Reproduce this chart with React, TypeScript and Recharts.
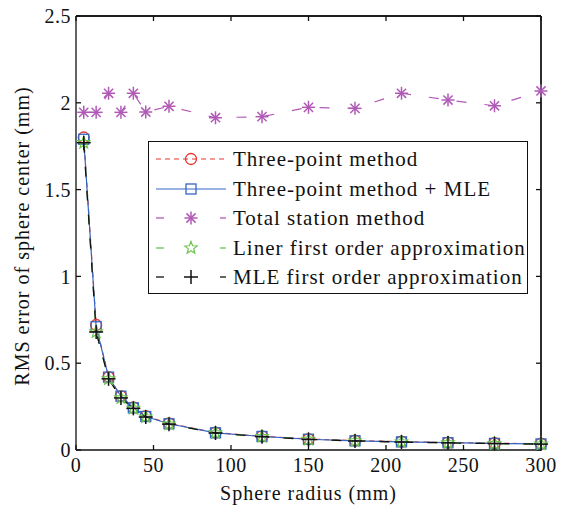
import { LineChart, Line, XAxis, YAxis, ReferenceLine } from 'recharts';

// sphere radius (mm)
const radius = [5, 13, 21, 29, 37, 45, 60, 90, 120, 150, 180, 210, 240, 270, 300];

// RMS error of sphere center (mm) per method
const threePoint = [1.8, 0.72, 0.42, 0.31, 0.245, 0.195, 0.153, 0.1, 0.079, 0.063, 0.054, 0.048, 0.043, 0.039, 0.036];
const threePointMle = [1.79, 0.71, 0.42, 0.31, 0.243, 0.193, 0.151, 0.099, 0.078, 0.062, 0.053, 0.047, 0.042, 0.038, 0.035];
const totalStation = [1.945, 1.945, 2.055, 1.945, 2.055, 1.947, 1.98, 1.914, 1.92, 1.974, 1.968, 2.055, 2.016, 1.983, 2.068];
const linerApprox = [1.77, 0.68, 0.41, 0.3, 0.24, 0.19, 0.149, 0.098, 0.077, 0.061, 0.052, 0.046, 0.041, 0.037, 0.034];
const mleApprox = [1.77, 0.68, 0.41, 0.3, 0.24, 0.19, 0.149, 0.098, 0.077, 0.061, 0.052, 0.046, 0.041, 0.037, 0.034];

const xTicks = [0, 50, 100, 150, 200, 250, 300];
const yTicks = [0, 0.5, 1, 1.5, 2, 2.5];

const RED = '#e8352e';
const BLUE = '#3366c4';
const PURPLE = '#b05ab6';
const GREEN = '#6cc54a';
const BLACK = '#111';

const FONT = 'Liberation Serif';

const data = radius.map((r, i) => ({
  r,
  threePoint: threePoint[i],
  threePointMle: threePointMle[i],
  totalStation: totalStation[i],
  linerApprox: linerApprox[i],
  mleApprox: mleApprox[i],
}));

// marker shapes
const CircleMark = ({ cx, cy }: any) => (
  <circle cx={cx} cy={cy} r={5.5} fill="none" stroke={RED} strokeWidth={1.3} />
);

const SquareMark = ({ cx, cy }: any) => (
  <rect x={cx - 5} y={cy - 5} width={10} height={10} fill="none" stroke={BLUE} strokeWidth={1.3} />
);

const AsteriskMark = ({ cx, cy }: any) => {
  const r = 6.5;
  const d = r * 0.707;
  return (
    <g stroke={PURPLE} strokeWidth={1.5}>
      <line x1={cx - r} y1={cy} x2={cx + r} y2={cy} />
      <line x1={cx} y1={cy - r} x2={cx} y2={cy + r} />
      <line x1={cx - d} y1={cy - d} x2={cx + d} y2={cy + d} />
      <line x1={cx - d} y1={cy + d} x2={cx + d} y2={cy - d} />
    </g>
  );
};

const StarMark = ({ cx, cy }: any) => {
  const pts: string[] = [];
  for (let k = 0; k < 10; k++) {
    const rr = k % 2 === 0 ? 6.5 : 2.8;
    const a = -Math.PI / 2 + (k * Math.PI) / 5;
    pts.push(`${cx + rr * Math.cos(a)},${cy + rr * Math.sin(a)}`);
  }
  return <polygon points={pts.join(' ')} fill="none" stroke={GREEN} strokeWidth={1.2} />;
};

const PlusMark = ({ cx, cy }: any) => (
  <g stroke={BLACK} strokeWidth={1.5}>
    <line x1={cx - 7} y1={cy} x2={cx + 7} y2={cy} />
    <line x1={cx} y1={cy - 7} x2={cx} y2={cy + 7} />
  </g>
);

const dotOf = (Mark: any, tag: string) => (p: any) => <Mark key={`${tag}${p.index}`} cx={p.cx} cy={p.cy} />;

const NoTick = () => <g />;

const legendRows = [
  { label: 'Three-point method', color: RED, dash: '5 4', full: true, Mark: CircleMark },
  { label: 'Three-point method + MLE', color: BLUE, dash: undefined, full: true, Mark: SquareMark },
  { label: 'Total station method', color: PURPLE, dash: undefined, full: false, Mark: AsteriskMark },
  { label: 'Liner first order approximation', color: GREEN, dash: undefined, full: false, Mark: StarMark },
  { label: 'MLE first order approximation', color: BLACK, dash: undefined, full: false, Mark: PlusMark },
];

const tickStyle = { fontFamily: FONT, fontSize: 20, fill: '#111', letterSpacing: 0.5 };

export default function App() {
  return (
    <div style={{ position: 'absolute', left: 0, top: 0, width: 571, height: 505, background: '#fff', fontFamily: FONT }}>
      <LineChart width={571} height={505} data={data} margin={{ top: 15, right: 29, bottom: 0, left: 0 }}>
        <XAxis
          dataKey="r"
          type="number"
          domain={[0, 300]}
          ticks={xTicks}
          height={55}
          tickSize={-5}
          tickMargin={13}
          stroke="#111"
          strokeWidth={1.3}
          tick={tickStyle}
          label={{ value: 'Sphere radius (mm)', position: 'insideBottom', offset: 5, style: { fontFamily: FONT, fontSize: 20, fill: '#111', letterSpacing: 1 } }}
        />
        <XAxis
          xAxisId="top"
          dataKey="r"
          orientation="top"
          type="number"
          domain={[0, 300]}
          ticks={xTicks}
          height={1}
          tickSize={-5}
          tickMargin={0}
          tick={NoTick}
          stroke="#111"
          strokeWidth={1.3}
        />
        <YAxis
          type="number"
          domain={[0, 2.5]}
          ticks={yTicks}
          width={76}
          tickSize={-5}
          tickMargin={10}
          stroke="#111"
          strokeWidth={1.3}
          tick={tickStyle}
        />
        <YAxis
          yAxisId="right"
          orientation="right"
          type="number"
          domain={[0, 2.5]}
          ticks={yTicks}
          width={1}
          tickSize={-5}
          tickMargin={0}
          tick={NoTick}
          stroke="#111"
          strokeWidth={1.3}
        />
        <ReferenceLine y={2.5} stroke="#111" strokeWidth={1.3} isFront />
        <ReferenceLine x={300} stroke="#111" strokeWidth={1.3} isFront />
        <Line dataKey="threePoint" stroke={RED} strokeWidth={1.2} strokeDasharray="5 4" dot={dotOf(CircleMark, 'c')} isAnimationActive={false} />
        <Line dataKey="threePointMle" xAxisId="top" yAxisId="right" stroke={BLUE} strokeWidth={1.2} dot={dotOf(SquareMark, 's')} isAnimationActive={false} />
        <Line dataKey="totalStation" stroke={PURPLE} strokeWidth={1.2} strokeDasharray="10 18" dot={dotOf(AsteriskMark, 'a')} isAnimationActive={false} />
        <Line dataKey="linerApprox" stroke={GREEN} strokeWidth={1.2} strokeDasharray="10 14" dot={dotOf(StarMark, 'g')} isAnimationActive={false} />
        <Line dataKey="mleApprox" stroke={BLACK} strokeWidth={1.3} strokeDasharray="10 14" dot={dotOf(PlusMark, 'p')} isAnimationActive={false} />
      </LineChart>

      {/* y axis title */}
      <div style={{
        position: 'absolute', left: 22, top: 236,
        transform: 'translate(-50%, -50%) rotate(-90deg)',
        whiteSpace: 'nowrap', fontSize: 20, letterSpacing: 1, color: '#111',
      }}>
        RMS error of sphere center (mm)
      </div>

      {/* legend */}
      <div style={{
        position: 'absolute', left: 148, top: 141, width: 378, height: 151,
        border: '1.5px solid #111', background: '#fff',
      }}>
        {legendRows.map((row, i) => (
          <div key={row.label} style={{ position: 'absolute', left: 0, top: 3 + i * 29.5, height: 28, display: 'flex', alignItems: 'center' }}>
            <svg width={84} height={28} style={{ display: 'block' }}>
              {row.full ? (
                <line x1={7} y1={14} x2={77} y2={14} stroke={row.color} strokeWidth={1.2} strokeDasharray={row.dash} />
              ) : (
                <g stroke={row.color} strokeWidth={1.3}>
                  <line x1={7} y1={14} x2={15} y2={14} />
                  <line x1={71} y1={14} x2={77} y2={14} />
                </g>
              )}
              <row.Mark cx={42} cy={14} />
            </svg>
            <span style={{ fontSize: 21, letterSpacing: 1, color: '#111', whiteSpace: 'nowrap', lineHeight: '28px' }}>{row.label}</span>
          </div>
        ))}
      </div>
    </div>
  );
}
